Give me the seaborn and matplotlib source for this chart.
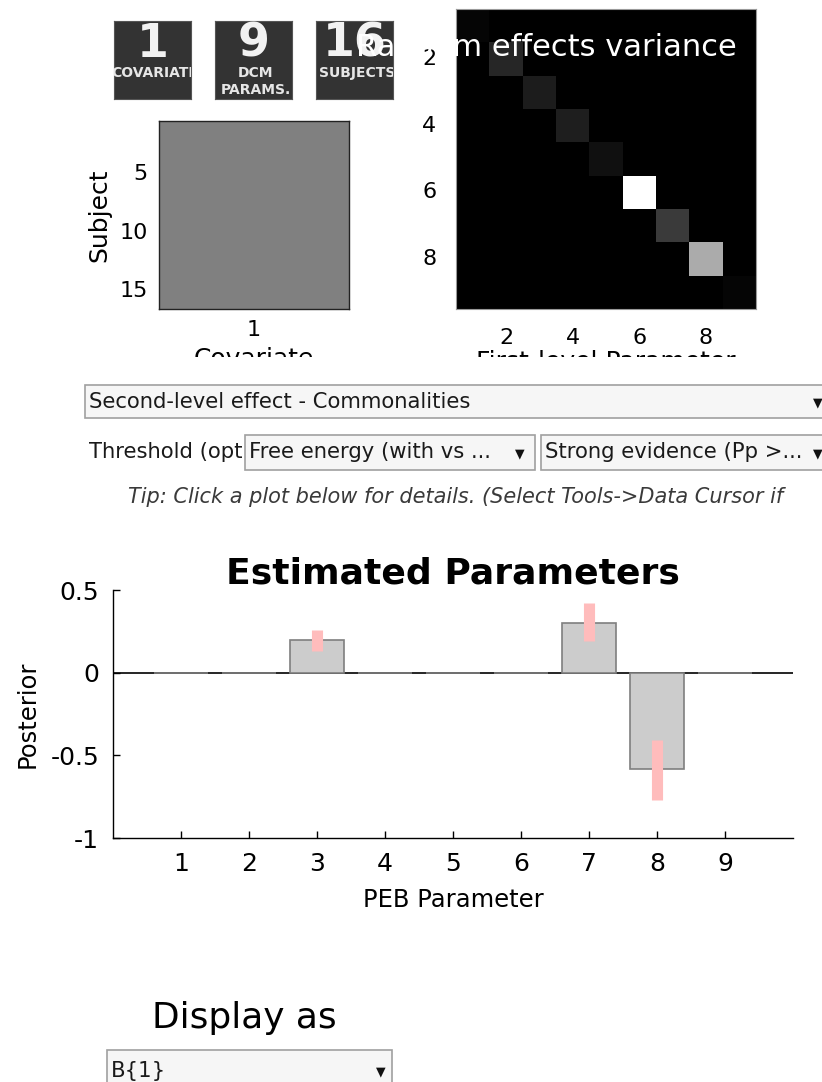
"""
PEB review panel: design matrix, random-effects variance, estimated parameters.
"""

import matplotlib.pyplot as plt
import numpy as np
import seaborn as sns
from matplotlib.patches import Rectangle

W, H = 822, 1082

# ── Data ─────────────────────────────────────────────────────────────────────
N_COVARIATES = 1
N_DCM_PARAMS = 9
N_SUBJECTS = 16

DESIGN = np.ones((N_SUBJECTS, N_COVARIATES))

# diagonal of the random effects covariance (normalised grey level)
RFX_DIAG = [0.02, 0.15, 0.11, 0.12, 0.065, 1.0, 0.23, 0.67, 0.02]

PEB_PARAM = [1, 2, 3, 4, 5, 6, 7, 8, 9]
POSTERIOR = [0.0, 0.0, 0.2, 0.0, 0.0, 0.0, 0.3, -0.58, 0.0]
CI_LOW = [0.0, 0.0, 0.13, 0.0, 0.0, 0.0, 0.19, -0.77, 0.0]
CI_HIGH = [0.0, 0.0, 0.26, 0.0, 0.0, 0.0, 0.42, -0.41, 0.0]

Y_TICKS = [-1, -0.5, 0, 0.5]
Y_TICKLABELS = ["-1", "-0.5", "0", "0.5"]


def fx(x):
    return x / W


def fy(y):
    return 1 - y / H


def px_axes(fig, x0, y0, x1, y1, **kw):
    return fig.add_axes([fx(x0), fy(y1), (x1 - x0) / W, (y1 - y0) / H], **kw)


def px_rect(fig, x0, y0, x1, y1, **kw):
    r = Rectangle((fx(x0), fy(y1)), (x1 - x0) / W, (y1 - y0) / H,
                  transform=fig.transFigure, **kw)
    fig.add_artist(r)
    return r


def px_text(fig, x, y, s, **kw):
    return fig.text(fx(x), fy(y), s, **kw)


def dropdown(fig, x0, y0, x1, y1, label, arrow_x, size=15.2):
    px_rect(fig, x0, y0, x1, y1, facecolor="#f6f6f6", edgecolor="#a0a0a0", lw=1.2)
    yc = (y0 + y1) / 2
    px_text(fig, x0 + 4, yc, label, fontsize=size, va="center", color="#1a1a1a")
    px_text(fig, arrow_x, yc + 1, "▼", fontsize=9, va="center", ha="center", color="#111111")


sns.set_style("ticks")
plt.rcParams["font.family"] = ["DejaVu Sans"]
plt.rcParams["axes.unicode_minus"] = False
plt.rcParams.update({
    "text.color": "black",
    "axes.labelcolor": "black",
    "axes.edgecolor": "black",
    "xtick.color": "black",
    "ytick.color": "black",
})

fig = plt.figure(figsize=(W / 100, H / 100), dpi=100)

# ── Summary boxes ────────────────────────────────────────────────────────────
boxes = [
    (114, str(N_COVARIATES), ["COVARIATE"]),
    (215, str(N_DCM_PARAMS), ["DCM", "PARAMS."]),
    (316, str(N_SUBJECTS), ["SUBJECTS"]),
]
for x0, num, lines in boxes:
    bx = px_axes(fig, x0, 21, x0 + 77, 99, facecolor="#333333")
    bx.set_xticks([])
    bx.set_yticks([])
    bx.set_xlim(0, 1)
    bx.set_ylim(0, 1)
    for s in bx.spines.values():
        s.set_color("#555555")
    bx.text(0.5, 0.70, num, fontsize=33, fontweight="bold", color="#f2f2f2",
            ha="center", va="center", clip_on=True)
    for i, ln in enumerate(lines):
        bx.text(0.53, 0.33 - i * 0.22, ln, fontsize=10, fontweight="bold",
                color="#e6e6e6", ha="center", va="center", clip_on=True)

# ── Design matrix ────────────────────────────────────────────────────────────
ax_x = px_axes(fig, 159, 121, 349, 309)
sns.heatmap(DESIGN, ax=ax_x, cmap="gray", vmin=0, vmax=2, cbar=False)
for s in ax_x.spines.values():
    s.set_visible(True)
    s.set_color("#222222")
    s.set_linewidth(1)
ax_x.set_yticks([4.5, 9.5, 14.5])
ax_x.set_yticklabels(["5", "10", "15"], rotation=0)
ax_x.set_xticks([0.5])
ax_x.set_xticklabels(["1"])
ax_x.tick_params(direction="in", length=3, labelsize=16, pad=8,
                 top=True, right=True, bottom=True, left=True)
ax_x.set_ylabel("Subject", fontsize=18, labelpad=6)
ax_x.set_xlabel("Covariate", fontsize=18, labelpad=5)

# ── Random effects variance ─────────────────────────────────────────────────
ax_r = px_axes(fig, 456, 9, 756, 309)
sns.heatmap(np.diag(RFX_DIAG), ax=ax_r, cmap="gray", vmin=0, vmax=1, cbar=False)
for s in ax_r.spines.values():
    s.set_visible(True)
    s.set_color("#999999")
    s.set_linewidth(0.8)
ticks = [1.5, 3.5, 5.5, 7.5]
ax_r.set_xticks(ticks)
ax_r.set_xticklabels(["2", "4", "6", "8"])
ax_r.set_yticks(ticks)
ax_r.set_yticklabels(["2", "4", "6", "8"], rotation=0)
ax_r.tick_params(length=0, labelsize=16, pad=14)
ax_r.set_xlabel("First-level Parameter", fontsize=18, labelpad=1)

px_text(fig, 356, 47, "Random effects variance", fontsize=22, color="white",
        va="center", ha="left", zorder=20)

# panel clipping below the top plots
px_rect(fig, 0, 357, W, 382, facecolor="white", edgecolor="none", zorder=15)

# ── Controls ────────────────────────────────────────────────────────────────
dropdown(fig, 85, 385, W + 5, 418, "Second-level effect - Commonalities", 818)
px_text(fig, 89, 452, "Threshold (opt", fontsize=15.2, va="center", color="#1a1a1a")
dropdown(fig, 245, 435, 535, 470, "Free energy (with vs ...", 520)
dropdown(fig, 541, 435, W + 5, 470, "Strong evidence (Pp >...", 818)
px_text(fig, 456, 497,
        "Tip: Click a plot below for details. (Select Tools->Data Cursor if",
        fontsize=15, style="italic", ha="center", va="center", color="#3a3a3a")

# ── Estimated parameters ─────────────────────────────────────────────────────
ax_b = px_axes(fig, 113, 590, 793, 838)
ax_b.axhline(0, color="black", lw=1.2, zorder=0.5)
sns.barplot(x=PEB_PARAM, y=POSTERIOR, ax=ax_b, native_scale=True, width=0.8,
            color="#cccccc", saturation=1, edgecolor="#7f7f7f", linewidth=1.2,
            errorbar=None, zorder=1)
ci_x = [p for p, lo, hi in zip(PEB_PARAM, CI_LOW, CI_HIGH) if hi > lo]
ci_lo = [lo for lo, hi in zip(CI_LOW, CI_HIGH) if hi > lo]
ci_hi = [hi for lo, hi in zip(CI_LOW, CI_HIGH) if hi > lo]
ax_b.vlines(ci_x, ci_lo, ci_hi, colors="#ffbcbc", linewidth=8, capstyle="butt", zorder=3)

ax_b.set_xlim(0, 10)
ax_b.set_ylim(-1, 0.5)
ax_b.set_xticks(PEB_PARAM)
ax_b.set_xticklabels([str(p) for p in PEB_PARAM])
ax_b.set_yticks(Y_TICKS)
ax_b.set_yticklabels(Y_TICKLABELS)
ax_b.tick_params(direction="in", length=5, width=1, labelsize=18, pad=10)
for side in ["top", "right"]:
    ax_b.spines[side].set_visible(False)
for side in ["left", "bottom"]:
    ax_b.spines[side].set_color("black")
    ax_b.spines[side].set_linewidth(1)
ax_b.set_xlabel("PEB Parameter", fontsize=17.5, labelpad=9)
ax_b.set_ylabel("Posterior", fontsize=17.5, labelpad=8)
ax_b.set_title("Estimated Parameters", fontsize=26, fontweight="bold", pad=4)

# ── Display selector ─────────────────────────────────────────────────────────
px_text(fig, 244, 1018, "Display as", fontsize=25.8, ha="center", va="center", color="black")
dropdown(fig, 107, 1050, 392, 1092, "B{1}", 381)

fig.savefig("out.png", dpi=100)
